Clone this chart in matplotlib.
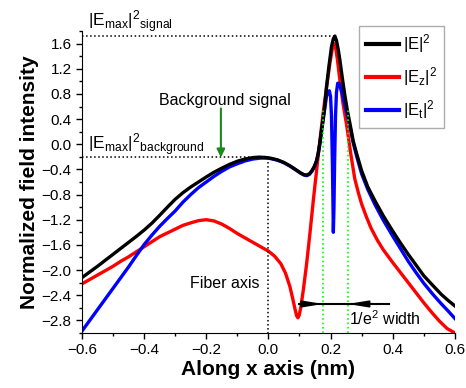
import matplotlib
matplotlib.use("Agg")
import matplotlib.pyplot as plt
from matplotlib.ticker import MultipleLocator

plt.rcParams['font.family'] = ['Liberation Sans', 'DejaVu Sans']
plt.rcParams['mathtext.default'] = 'regular'

# |E|^2 (black)
x_e = [-0.6, -0.575, -0.55, -0.525, -0.5, -0.475, -0.45, -0.425, -0.4, -0.375, -0.35, -0.325,
       -0.3, -0.275, -0.25, -0.225, -0.2, -0.175, -0.15, -0.125, -0.1, -0.075, -0.05, -0.03,
       -0.01, 0.01, 0.03, 0.05, 0.07, 0.09, 0.105, 0.115, 0.123, 0.132, 0.14, 0.148, 0.155,
       0.16, 0.165, 0.171, 0.18, 0.187, 0.195, 0.203, 0.209, 0.214, 0.219, 0.225, 0.23,
       0.238, 0.246, 0.254, 0.262, 0.273, 0.284, 0.3, 0.32, 0.343, 0.37, 0.4, 0.425, 0.45,
       0.475, 0.5, 0.53, 0.557, 0.58, 0.6]
y_e = [-2.12, -2.03, -1.94, -1.845, -1.75, -1.655, -1.56, -1.465, -1.365, -1.255, -1.13, -1.0,
       -0.875, -0.77, -0.68, -0.6, -0.52, -0.445, -0.38, -0.32, -0.27, -0.235, -0.212, -0.205,
       -0.21, -0.225, -0.25, -0.29, -0.345, -0.41, -0.46, -0.485, -0.49, -0.47, -0.42, -0.35, -0.26,
       -0.15, 0.0, 0.22, 0.55, 0.91, 1.25, 1.55, 1.68, 1.72, 1.65, 1.5, 1.34,
       1.05, 0.78, 0.54, 0.34, 0.05, -0.15, -0.42, -0.68, -0.9, -1.14, -1.38, -1.57, -1.75,
       -1.92, -2.09, -2.25, -2.39, -2.49, -2.57]

# |Ez|^2 (red)
x_z = [-0.6, -0.575, -0.55, -0.525, -0.5, -0.475, -0.45, -0.425, -0.4, -0.375, -0.35, -0.325,
       -0.3, -0.275, -0.25, -0.225, -0.2, -0.175, -0.15, -0.125, -0.1, -0.075, -0.05, -0.025,
       0.0, 0.02, 0.04, 0.055, 0.069, 0.078, 0.086, 0.091, 0.095, 0.099, 0.104, 0.112, 0.123,
       0.134, 0.145, 0.155, 0.165, 0.176, 0.187, 0.198, 0.205, 0.211, 0.216, 0.222, 0.23,
       0.24, 0.252, 0.265, 0.278, 0.29, 0.3, 0.315, 0.33, 0.35, 0.37, 0.4, 0.425, 0.45,
       0.475, 0.5, 0.525, 0.55, 0.575, 0.6]
y_z = [-2.22, -2.15, -2.08, -2.01, -1.94, -1.86, -1.79, -1.71, -1.63, -1.55, -1.47, -1.41,
       -1.35, -1.29, -1.25, -1.215, -1.2, -1.22, -1.27, -1.34, -1.42, -1.49, -1.56, -1.63,
       -1.7, -1.78, -1.9, -2.05, -2.26, -2.45, -2.63, -2.73, -2.76, -2.72, -2.6, -2.33, -1.9,
       -1.4, -0.87, -0.42, 0.03, 0.49, 0.9, 1.29, 1.5, 1.6, 1.55, 1.35, 1.02,
       0.65, 0.3, -0.15, -0.55, -0.78, -0.95, -1.15, -1.33, -1.52, -1.68, -1.88, -2.04, -2.2,
       -2.36, -2.52, -2.67, -2.81, -2.93, -3.0]

# |Et|^2 (blue)
x_t = [-0.6, -0.575, -0.55, -0.525, -0.5, -0.475, -0.45, -0.425, -0.4, -0.375, -0.35, -0.325,
       -0.3, -0.275, -0.25, -0.225, -0.2, -0.175, -0.15, -0.125, -0.1, -0.075, -0.05, -0.025,
       0.0, 0.03, 0.05, 0.07, 0.09, 0.105, 0.115, 0.123, 0.132, 0.14, 0.148, 0.155, 0.16,
       0.165, 0.171, 0.18, 0.187, 0.192, 0.196, 0.2, 0.203, 0.206, 0.208, 0.209, 0.211, 0.213,
       0.216, 0.219, 0.223, 0.227, 0.232, 0.238, 0.246, 0.254, 0.262, 0.273, 0.284, 0.3,
       0.32, 0.343, 0.37, 0.4, 0.425, 0.45, 0.475, 0.5, 0.53, 0.557, 0.58, 0.6]
y_t = [-2.97, -2.8, -2.63, -2.46, -2.29, -2.12, -1.95, -1.77, -1.595, -1.445, -1.305, -1.18,
       -1.06, -0.92, -0.8, -0.69, -0.6, -0.51, -0.43, -0.36, -0.31, -0.265, -0.235, -0.22,
       -0.22, -0.255, -0.295, -0.35, -0.415, -0.465, -0.49, -0.5, -0.48, -0.43, -0.36, -0.27, -0.16,
       -0.01, 0.2, 0.52, 0.76, 0.84, 0.85, 0.76, 0.45, -0.3, -1.0, -1.4, -1.0, -0.3,
       0.45, 0.82, 0.97, 0.97, 0.9, 0.8, 0.62, 0.46, 0.3, 0.02, -0.19, -0.47,
       -0.72, -0.96, -1.21, -1.46, -1.66, -1.86, -2.04, -2.21, -2.39, -2.54, -2.66, -2.77]

e_signal = 1.72
e_background = -0.2
width_left = 0.176
width_right = 0.255

fig = plt.figure(figsize=(4.66, 3.88), dpi=100)
ax = fig.add_axes([0.176, 0.142, 0.8, 0.778])

ax.plot(x_z, y_z, color='#ff0000', lw=2.4, label='|E$_z$|$^2$', zorder=2)
ax.plot(x_t, y_t, color='#0000ff', lw=2.4, label='|E$_t$|$^2$', zorder=2.5)
ax.plot(x_e, y_e, color='black', lw=2.4, label='|E|$^2$', zorder=2.7)

# reference lines
ax.plot([-0.6, 0.214], [e_signal, e_signal], ':', color='black', lw=1.1)
ax.plot([-0.6, -0.03], [e_background, e_background], ':', color='black', lw=1.1)
ax.plot([0.0, 0.0], [-0.22, -3.0], ':', color='black', lw=1.1)
ax.plot([width_left, width_left], [-3.0, 0.57], ':', color='#00ff00', lw=1.2, zorder=3)
ax.plot([width_right, width_right], [-3.0, 0.54], ':', color='#00ff00', lw=1.2, zorder=3)

# 1/e^2 width arrows
ax.plot([0.099, 0.389], [-2.54, -2.54], color='black', lw=1.5, zorder=4)
head = '-|>,head_length=1.1,head_width=0.18'
ax.annotate('', xy=(width_left, -2.54), xytext=(0.13, -2.54), zorder=4,
            arrowprops=dict(arrowstyle=head, color='black', lw=1.2, mutation_scale=11,
                            shrinkA=0, shrinkB=0))
ax.annotate('', xy=(width_right, -2.54), xytext=(0.3, -2.54), zorder=4,
            arrowprops=dict(arrowstyle=head, color='black', lw=1.2, mutation_scale=11,
                            shrinkA=0, shrinkB=0))

# background arrow
ax.annotate('', xy=(-0.153, -0.21), xytext=(-0.153, 0.57),
            arrowprops=dict(arrowstyle='-|>', color='#1a8a1a', lw=1.5, mutation_scale=12,
                            shrinkA=0, shrinkB=0))

ax.text(-0.58, 1.87, r'|E$_{max}$|$^2$$_{signal}$', fontsize=12.5, va='baseline', clip_on=False)
ax.text(-0.58, -0.08, r'|E$_{max}$|$^2$$_{background}$', fontsize=12.5, va='baseline')
ax.text(-0.352, 0.70, 'Background signal', fontsize=11.5, va='center')
ax.text(-0.253, -2.22, 'Fiber axis', fontsize=11.5, va='center')
ax.text(0.259, -2.78, '1/e$^2$ width', fontsize=11.5, va='center')

ax.set_xlim(-0.6, 0.6)
ax.set_ylim(-3.0, 1.8)
ax.xaxis.set_major_locator(MultipleLocator(0.2))
ax.xaxis.set_minor_locator(MultipleLocator(0.1))
ax.yaxis.set_major_locator(MultipleLocator(0.4))
ax.yaxis.set_minor_locator(MultipleLocator(0.2))
ax.tick_params(which='major', length=4, width=1, labelsize=11)
ax.tick_params(which='minor', length=2.5, width=1)
ax.spines['top'].set_visible(False)
ax.spines['right'].set_visible(False)

ax.set_xlabel('Along x axis (nm)', fontsize=15, fontweight='bold', labelpad=2)
ax.set_ylabel('Normalized field intensity', fontsize=15, fontweight='bold', labelpad=2)

handles, labels = ax.get_legend_handles_labels()
order = [2, 0, 1]
leg = ax.legend([handles[i] for i in order], [labels[i] for i in order],
                loc='upper right', bbox_to_anchor=(0.97, 1.017), borderaxespad=0,
                fontsize=12, handlelength=2.0, fancybox=False, edgecolor='#999999',
                borderpad=0.4, labelspacing=0.6, handletextpad=0.2)
for h in leg.get_lines():
    h.set_linewidth(3)

fig.savefig('out.png', dpi=100)
